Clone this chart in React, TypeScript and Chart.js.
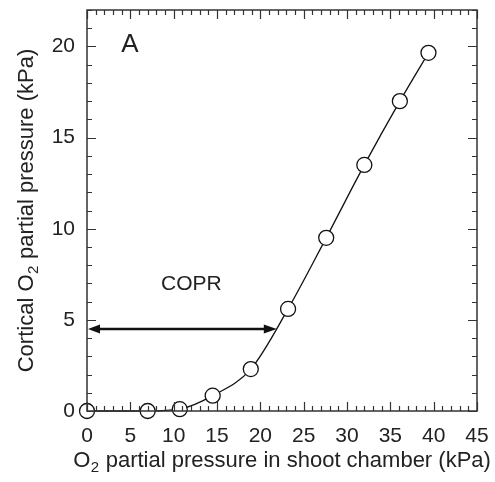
import React, { useEffect, useRef } from "react";
import { Chart, registerables } from "chart.js";

Chart.register(...registerables);

// Data
const chamberO2 = [0, 7.0, 10.7, 14.5, 18.9, 23.2, 27.6, 32.0, 36.1, 39.4];
const corticalO2 = [0, 0, 0.1, 0.84, 2.3, 5.6, 9.5, 13.5, 17.0, 19.65];
const xMajorTicks = [0, 5, 10, 15, 20, 25, 30, 35, 40, 45];
const yMajorTicks = [0, 5, 10, 15, 20];
const coprArrowX = [0, 21.9];
const coprArrowY = 4.5;
const panelLabel = "A";
const panelLabelPos = [4.95, 20.1];
const coprLabel = "COPR";
const coprLabelPos = [12.05, 6.95];
// axis titles: [before subscript, subscript, after subscript]
const xTitleParts = ["O", "2", " partial pressure in shoot chamber (kPa)"];
const yTitleParts = ["Cortical O", "2", " partial pressure (kPa)"];

const FONT = "'Liberation Sans', Arial, Helvetica, sans-serif";
const INK = "#222";
const AXIS = "#333";

function drawSubTitle(ctx: any, parts: string[], cx: number, baseY: number) {
  const big = `22px ${FONT}`;
  const small = `15px ${FONT}`;
  ctx.font = big;
  const w0 = ctx.measureText(parts[0]).width;
  const w2 = ctx.measureText(parts[2]).width;
  ctx.font = small;
  const w1 = ctx.measureText(parts[1]).width + 1;
  const total = w0 + w1 + w2;
  let x = cx - total / 2;
  ctx.textAlign = "left";
  ctx.textBaseline = "alphabetic";
  ctx.font = big;
  ctx.fillText(parts[0], x, baseY);
  x += w0;
  ctx.font = small;
  ctx.fillText(parts[1], x + 0.5, baseY + 5);
  x += w1;
  ctx.font = big;
  ctx.fillText(parts[2], x, baseY);
}

const framePlugin = {
  id: "frameTicks",
  afterDraw(chart: any) {
    const { ctx, chartArea } = chart;
    const { left, right, top, bottom } = chartArea;
    const x = chart.scales.x;
    const y = chart.scales.y;
    ctx.save();
    ctx.strokeStyle = AXIS;
    ctx.lineWidth = 1.5;
    ctx.strokeRect(left, top, right - left, bottom - top);
    ctx.lineWidth = 1.2;
    ctx.beginPath();
    x.ticks.forEach((t: any) => {
      const px = Math.round(x.getPixelForValue(t.value)) + 0.5;
      const len = xMajorTicks.includes(t.value) ? 9 : 5;
      ctx.moveTo(px, bottom);
      ctx.lineTo(px, bottom - len);
      ctx.moveTo(px, top);
      ctx.lineTo(px, top + len);
    });
    y.ticks.forEach((t: any) => {
      const py = Math.round(y.getPixelForValue(t.value)) + 0.5;
      const len = yMajorTicks.includes(t.value) ? 9 : 5;
      ctx.moveTo(left, py);
      ctx.lineTo(left + len, py);
      ctx.moveTo(right, py);
      ctx.lineTo(right - len, py);
    });
    ctx.stroke();

    // axis titles
    ctx.fillStyle = INK;
    drawSubTitle(ctx, xTitleParts, (left + right) / 2, 467);
    ctx.save();
    ctx.translate(33, (top + bottom) / 2);
    ctx.rotate(-Math.PI / 2);
    drawSubTitle(ctx, yTitleParts, 0, 0);
    ctx.restore();
    ctx.restore();
  },
};

const annotationPlugin = {
  id: "annotations",
  afterDatasetsDraw(chart: any) {
    const { ctx } = chart;
    const x = chart.scales.x;
    const y = chart.scales.y;
    ctx.save();
    // double-headed arrow
    const x0 = x.getPixelForValue(coprArrowX[0]);
    const x1 = x.getPixelForValue(coprArrowX[1]);
    const py = y.getPixelForValue(coprArrowY);
    const headL = 13;
    const headW = 4.5;
    ctx.strokeStyle = "#111";
    ctx.fillStyle = "#111";
    ctx.lineWidth = 2.5;
    ctx.beginPath();
    ctx.moveTo(x0 + headL - 1, py);
    ctx.lineTo(x1 - headL + 1, py);
    ctx.stroke();
    ctx.beginPath();
    ctx.moveTo(x0 + 1, py);
    ctx.lineTo(x0 + headL, py - headW);
    ctx.lineTo(x0 + headL, py + headW);
    ctx.closePath();
    ctx.fill();
    ctx.beginPath();
    ctx.moveTo(x1, py);
    ctx.lineTo(x1 - headL, py - headW);
    ctx.lineTo(x1 - headL, py + headW);
    ctx.closePath();
    ctx.fill();
    // labels
    ctx.fillStyle = INK;
    ctx.textAlign = "center";
    ctx.textBaseline = "middle";
    ctx.font = `26px ${FONT}`;
    ctx.fillText(panelLabel, x.getPixelForValue(panelLabelPos[0]), y.getPixelForValue(panelLabelPos[1]));
    ctx.font = `21px ${FONT}`;
    ctx.fillText(coprLabel, x.getPixelForValue(coprLabelPos[0]), y.getPixelForValue(coprLabelPos[1]));
    ctx.restore();
  },
};

export default function App() {
  const canvasRef = useRef<HTMLCanvasElement | null>(null);

  useEffect(() => {
    const canvas = canvasRef.current;
    if (!canvas) return;
    const data = chamberO2.map((v, i) => ({ x: v, y: corticalO2[i] }));
    const chart = new Chart(canvas, {
      type: "scatter",
      data: {
        datasets: [
          {
            data,
            showLine: true,
            borderColor: "#111",
            borderWidth: 1.3,
            cubicInterpolationMode: "monotone",
            pointRadius: 7.5,
            pointHoverRadius: 7.5,
            pointBackgroundColor: "#fff",
            pointBorderColor: "#111",
            pointBorderWidth: 1.3,
            clip: false,
          } as any,
        ],
      },
      options: {
        animation: false,
        responsive: true,
        maintainAspectRatio: false,
        layout: { padding: { top: 10, right: 18, left: 0, bottom: 0 } },
        plugins: { legend: { display: false }, tooltip: { enabled: false } },
        scales: {
          x: {
            type: "linear",
            min: 0,
            max: 45,
            grid: { display: false, drawTicks: false },
            border: { display: false },
            ticks: {
              stepSize: 1,
              autoSkip: false,
              maxRotation: 0,
              padding: 13,
              color: INK,
              font: { family: FONT, size: 21 },
              callback: (v: any) => (xMajorTicks.includes(Number(v)) ? String(v) : ""),
            },
            afterFit: (s: any) => {
              s.height = 71;
              s.paddingLeft = 0;
              s.paddingRight = 0;
            },
          },
          y: {
            type: "linear",
            min: 0,
            max: 22,
            grid: { display: false, drawTicks: false },
            border: { display: false },
            ticks: {
              stepSize: 1,
              autoSkip: false,
              padding: 12,
              color: INK,
              font: { family: FONT, size: 21 },
              callback: (v: any) => (yMajorTicks.includes(Number(v)) ? String(v) : ""),
            },
            afterFit: (s: any) => {
              s.width = 87;
              s.paddingTop = 0;
              s.paddingBottom = 0;
            },
          },
        },
      },
      plugins: [framePlugin, annotationPlugin],
    });
    return () => chart.destroy();
  }, []);

  return (
    <div style={{ position: "absolute", left: 0, top: 0, width: 495, height: 482, background: "#fff" }}>
      <canvas ref={canvasRef} />
    </div>
  );
}
